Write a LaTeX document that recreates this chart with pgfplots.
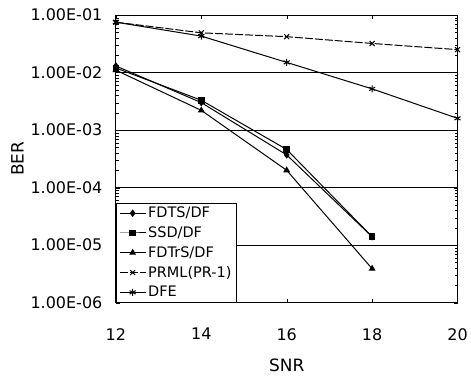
\documentclass[border=0pt]{standalone}
\usepackage{fontspec}
\setmainfont{DejaVu Sans}
\usepackage{pgfplots}
\pgfplotsset{compat=1.18}
\begin{document}
\begin{tikzpicture}
\begin{semilogyaxis}[
  scale only axis,
  width=342pt, height=288pt,
  xmin=12, xmax=20, ymin=1e-6, ymax=1e-1,
  xtick={12,14,16,18,20},
  ytick={1e-6,1e-5,1e-4,1e-3,1e-2,1e-1},
  yticklabels={1.00E-06,1.00E-05,1.00E-04,1.00E-03,1.00E-02,1.00E-01},
  minor ytick={},
  ymajorgrids, major grid style={black, line width=0.5pt},
  tick align=inside, tick style={black}, major tick length=4pt,
  axis line style={black, line width=0.8pt},
  tick label style={font=\fontsize{16}{18}\selectfont},
  xticklabel style={yshift=-22pt},
  yticklabel style={xshift=-10pt},
  /pgf/number format/assume math mode=true,
  xlabel={SNR}, ylabel={BER},
  label style={font=\fontsize{17}{19}\selectfont},
  xlabel style={yshift=-12pt},
  ylabel style={yshift=0pt},
  legend style={at={(0,0)}, anchor=south west, font=\fontsize{14.5}{16}\selectfont, draw=black, line width=0.6pt, inner xsep=3pt, inner ysep=2pt, row sep=3.5pt},
  legend cell align=left,
  legend image code/.code={\draw[mark repeat=2,mark phase=2] plot coordinates {(0pt,0pt)(13pt,0pt)(26pt,0pt)};},
  every axis plot/.append style={black, line width=1pt},
]
\addplot[mark=diamond*, mark size=3pt] coordinates {(12,0.013) (14,0.0030) (16,3.7e-4) (18,1.4e-5)};
\addlegendentry{FDTS/DF}
\addplot[mark=square*, mark size=2.8pt] coordinates {(12,0.012) (14,0.0033) (16,4.6e-4) (18,1.4e-5)};
\addlegendentry{SSD/DF}
\addplot[mark=triangle*, mark size=3pt] coordinates {(12,0.011) (14,0.0022) (16,2.0e-4) (18,3.9e-6)};
\addlegendentry{FDTrS/DF}
\addplot[mark=x, mark size=3.5pt, dash pattern=on 8pt off 2pt] coordinates {(12,0.075) (14,0.049) (16,0.042) (18,0.032) (20,0.025)};
\addlegendentry{PRML(PR-1)}
\addplot[mark=asterisk, mark size=3.5pt] coordinates {(12,0.075) (14,0.043) (16,0.015) (18,0.0052) (20,0.0016)};
\addlegendentry{DFE}
\end{semilogyaxis}
\path ([xshift=-116pt,yshift=-78pt]current axis.south west) rectangle ([xshift=13pt,yshift=15pt]current axis.north east);
\end{tikzpicture}
\end{document}
